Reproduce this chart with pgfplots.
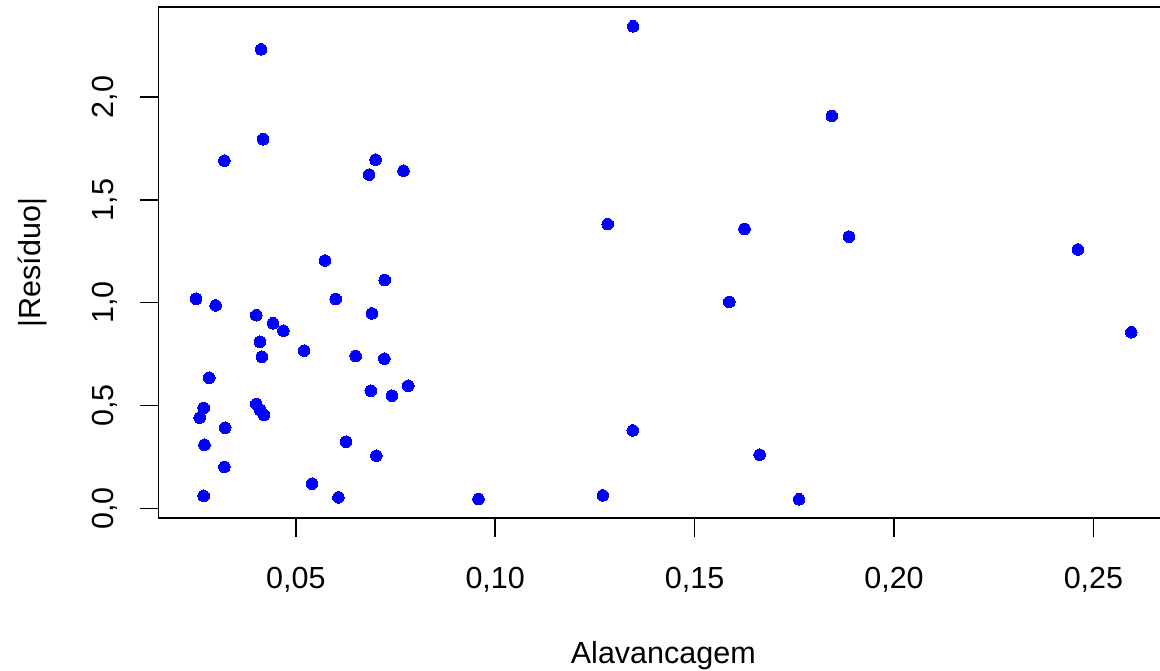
\documentclass[border=0pt]{standalone}
\usepackage{pgfplots}
\pgfplotsset{compat=1.18}
\usepackage{fontspec}
\setmainfont{Liberation Sans}
\definecolor{rblue}{RGB}{0,0,255}
\pgfplotstableread{
x y
0.0413 2.232
0.0418 1.795
0.0321 1.691
0.0700 1.696
0.0684 1.623
0.0770 1.642
0.0573 1.205
0.0250 1.019
0.0299 0.987
0.0401 0.939
0.0443 0.900
0.0469 0.864
0.0410 0.810
0.0415 0.737
0.0521 0.767
0.0600 1.018
0.0723 1.110
0.0691 0.948
0.0650 0.741
0.0722 0.728
0.0782 0.596
0.0688 0.572
0.0741 0.548
0.0283 0.635
0.0269 0.488
0.0259 0.441
0.0401 0.507
0.0410 0.478
0.0420 0.454
0.0323 0.392
0.0271 0.309
0.0626 0.324
0.0702 0.256
0.0321 0.202
0.0541 0.120
0.0269 0.061
0.0607 0.053
0.1346 2.344
0.1282 1.382
0.1625 1.359
0.1587 1.004
0.1345 0.379
0.1663 0.261
0.0958 0.045
0.1270 0.063
0.1844 1.908
0.1887 1.321
0.2461 1.259
0.2595 0.856
0.1762 0.044
}\resid
\begin{document}
\fontsize{15.25}{18}\selectfont
\begin{tikzpicture}
\begin{axis}[
  at={(0,0)}, anchor=south west,
  scale only axis, width=504.7pt, height=255.6pt,
  xmin=0.0156, xmax=0.2687, ymin=-0.048, ymax=2.438,
  axis line style={line width=0.75pt},
  every tick/.style={black, line width=0.75pt},
  tick align=outside, tick pos=left,
  major tick length=9.5pt,
  xtick={0.05,0.10,0.15,0.20,0.25},
  ytick={0,0.5,1,1.5,2},
  xticklabel style={/pgf/number format/fixed, /pgf/number format/fixed zerofill, /pgf/number format/precision=2, /pgf/number format/use comma, /pgf/number format/assume math mode=true},
  yticklabel style={/pgf/number format/fixed, /pgf/number format/fixed zerofill, /pgf/number format/precision=1, /pgf/number format/use comma, /pgf/number format/assume math mode=true},
  every x tick label/.append style={anchor=base, yshift=-25.65pt},
  every y tick label/.append style={xshift=-13.1pt, rotate=90, anchor=base},
  xlabel={Alavancagem},
  xlabel style={at={(axis description cs:0.5,-0.2837)}, anchor=base},
  ylabel={|Resíduo|},
  ylabel style={at={(axis description cs:-0.1174,0.5)}, anchor=base},
]
\addplot[rblue, only marks, mark=*, mark size=2.9pt, mark options={draw=rblue, fill=rblue, line width=0pt}] table[x=x, y=y] {\resid};
\end{axis}
\pgfresetboundingbox
\path[use as bounding box] (-79.3pt,-75.9pt) rectangle (500.7pt,259.1pt);
\end{tikzpicture}
\end{document}
